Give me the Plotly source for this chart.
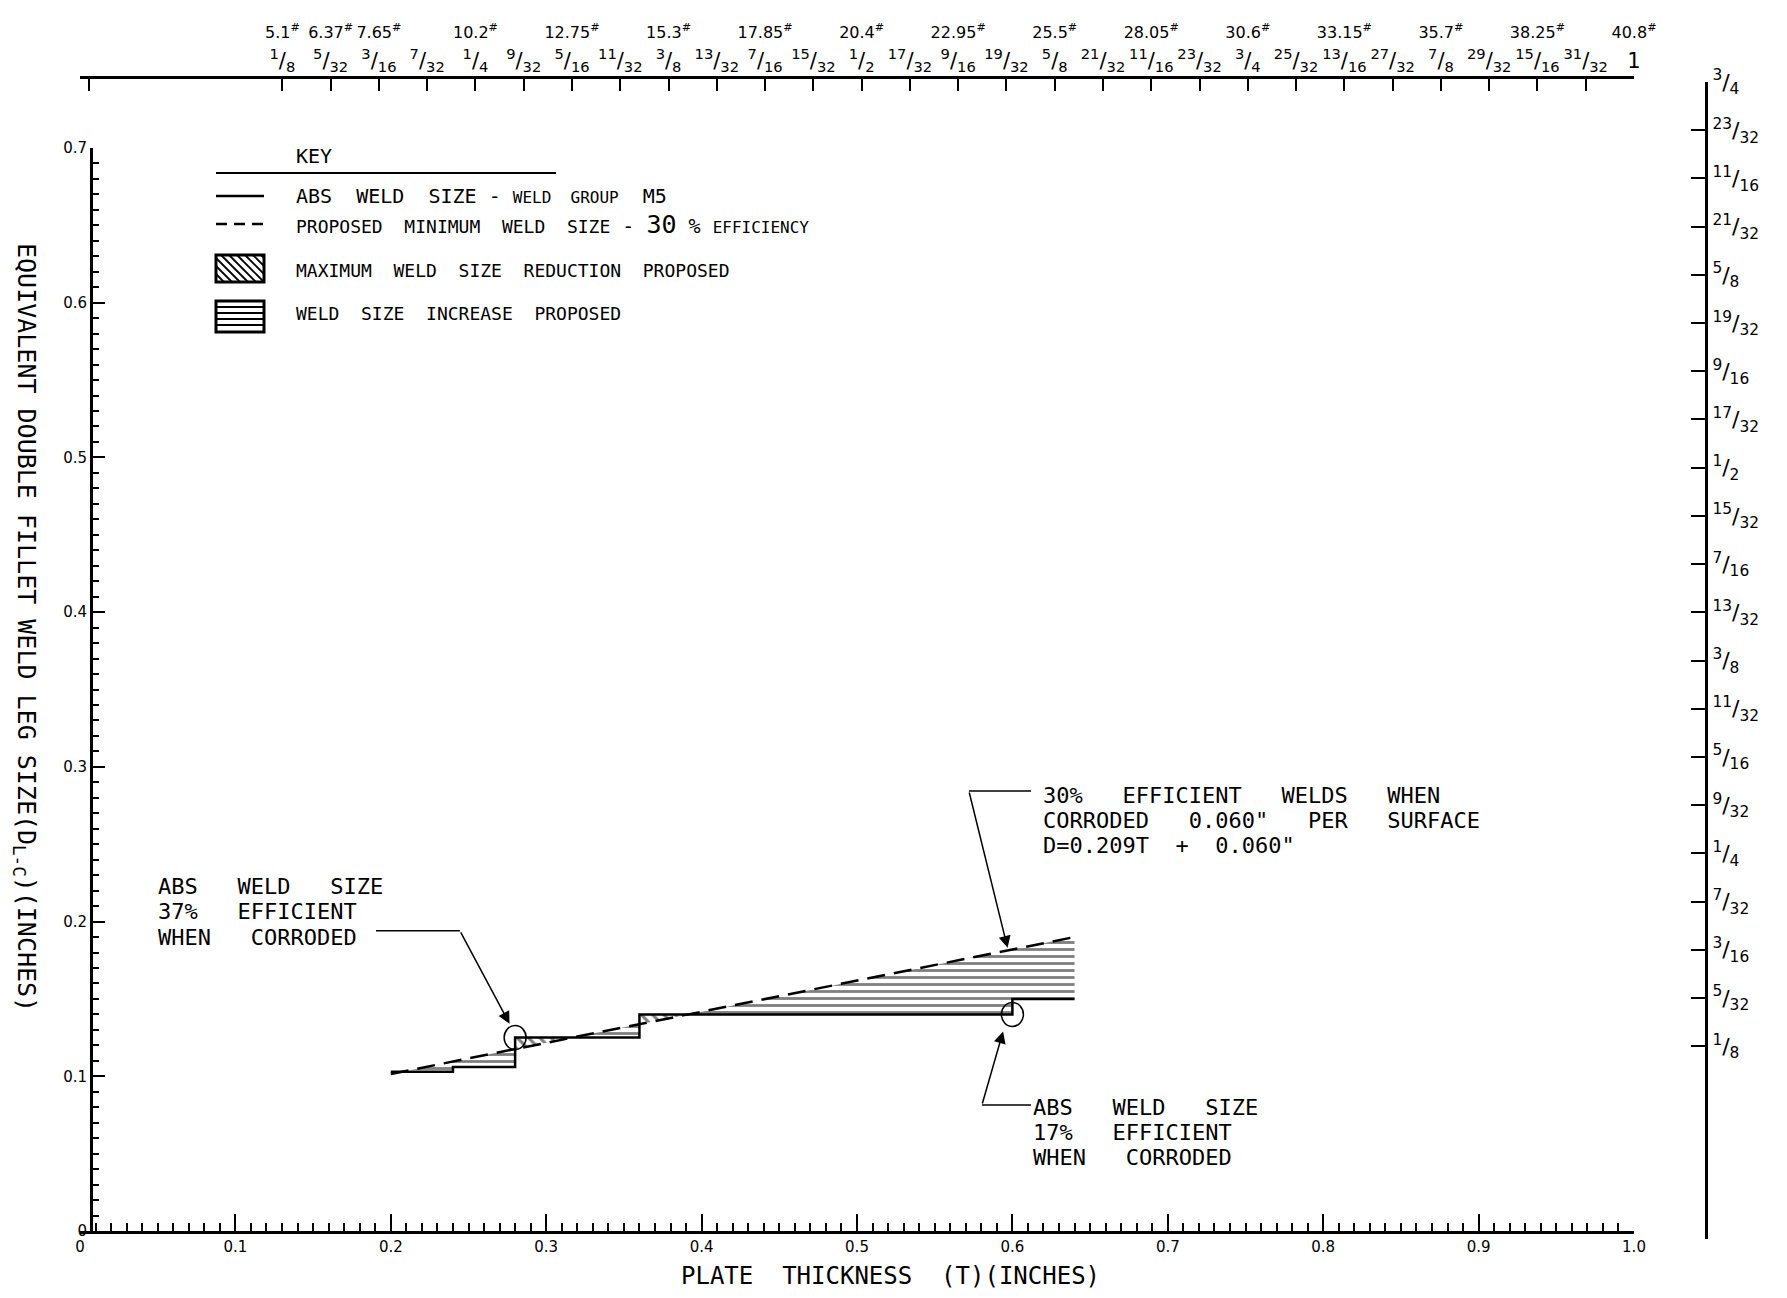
"""
Weld size chart: ABS fillet weld sizes vs proposed 30 % efficiency minimum
Plotly, black on white like the original drawing
"""
from fractions import Fraction

import numpy as np
import plotly.graph_objects as go

# ABS weld size, weld group M5: edges of each step (plate thickness) and the step levels
ABS_T = [0.20, 0.24, 0.28, 0.36, 0.60, 0.64]
ABS_D = [0.103, 0.106, 0.125, 0.140, 0.150]

# proposed minimum weld size, 30 % efficiency: end points
MIN_T = [0.20, 0.64]
MIN_D = [0.1015, 0.190]

X_TICKS = ["0", "0.1", "0.2", "0.3", "0.4", "0.5", "0.6", "0.7", "0.8", "0.9", "1.0"]
Y_TICKS = ["0", "0.1", "0.2", "0.3", "0.4", "0.5", "0.6", "0.7"]

# top scale: plate thickness in fractions, and plate weight (lb/sq ft)
TOP_FRACTIONS = ["1/8", "5/32", "3/16", "7/32", "1/4", "9/32", "5/16", "11/32", "3/8",
                 "13/32", "7/16", "15/32", "1/2", "17/32", "9/16", "19/32", "5/8", "21/32",
                 "11/16", "23/32", "3/4", "25/32", "13/16", "27/32", "7/8", "29/32",
                 "15/16", "31/32", "1"]
TOP_WEIGHT_AT = ["1/8", "5/32", "3/16", "1/4", "5/16", "3/8", "7/16", "1/2", "9/16",
                 "5/8", "11/16", "3/4", "13/16", "7/8", "15/16", "1"]
TOP_WEIGHTS = ["5.1", "6.37", "7.65", "10.2", "12.75", "15.3", "17.85", "20.4", "22.95",
               "25.5", "28.05", "30.6", "33.15", "35.7", "38.25", "40.8"]

# right scale: weld leg size in fractions
RIGHT_FRACTIONS = ["1/8", "5/32", "3/16", "7/32", "1/4", "9/32", "5/16", "11/32", "3/8",
                   "13/32", "7/16", "15/32", "1/2", "17/32", "9/16", "19/32", "5/8",
                   "21/32", "11/16", "23/32", "3/4"]

FONT = "DejaVu Sans"
MONO = "DejaVu Sans Mono"

# page geometry in pixels (the html body adds an 8 px margin)
W, H = 1787, 1298
BODY = 8
PAPER_L, PAPER_R, PAPER_T, PAPER_B = 80, 1706, 77, 1239
M = dict(l=PAPER_L - BODY, r=W - PAPER_R + BODY, t=PAPER_T - BODY, b=H - PAPER_B + BODY)
PW = PAPER_R - PAPER_L
PH = PAPER_B - PAPER_T


def px(x):
    return (x - PAPER_L) / PW


def py(y):
    return (PAPER_B - y) / PH


def frac_value(s):
    return float(Fraction(s))


def frac_label(s):
    if "/" not in s:
        return s
    num, den = s.split("/")
    return f"<sup>{num}</sup>/<sub>{den}</sub>"


def hatch_polygons():
    """Zones between the ABS steps and the proposed line"""
    red_x, red_y, inc_x, inc_y = [], [], [], []
    for i, level in enumerate(ABS_D):
        t0, t1 = ABS_T[i], ABS_T[i + 1]
        d0, d1 = np.interp([t0, t1], MIN_T, MIN_D)
        if d0 < level:
            tc = min(float(np.interp(level, MIN_D, MIN_T)), t1)
            red_x += [t0, tc, t0, None]
            red_y += [level, level, d0, None]
            if tc < t1:
                inc_x += [tc, t1, t1, None]
                inc_y += [level, level, d1, None]
        else:
            inc_x += [t0, t1, t1, t0, None]
            inc_y += [level, level, d1, d0, None]
    return red_x, red_y, inc_x, inc_y


red_x, red_y, inc_x, inc_y = hatch_polygons()

fig = go.Figure()

# zonas rayadas
fig.add_trace(go.Scatter(
    x=red_x, y=red_y, mode="none", fill="toself", fillcolor="white",
    fillpattern=dict(shape="\\", fgcolor="black", bgcolor="white", size=8, solidity=0.38),
    showlegend=False, hoverinfo="skip",
))
fig.add_trace(go.Scatter(
    x=inc_x, y=inc_y, mode="none", fill="toself", fillcolor="white",
    fillpattern=dict(shape="-", fgcolor="black", bgcolor="white", size=7, solidity=0.4),
    showlegend=False, hoverinfo="skip",
))

fig.add_trace(go.Scatter(
    x=ABS_T, y=ABS_D + [ABS_D[-1]], mode="lines",
    line=dict(color="black", width=2.5, shape="hv"),
    name="ABS WELD SIZE - WELD GROUP M5", showlegend=False,
))
fig.add_trace(go.Scatter(
    x=MIN_T, y=MIN_D, mode="lines",
    line=dict(color="black", width=2.5, dash="18px,9px"),
    name="PROPOSED MINIMUM WELD SIZE - 30 % EFFICIENCY", showlegend=False,
))

# trazas vacías para que se dibujen los ejes auxiliares
for xa, ya in [("x2", "y"), ("x3", "y"), ("x", "y2")]:
    fig.add_trace(go.Scatter(x=[None], y=[None], xaxis=xa, yaxis=ya,
                             showlegend=False, hoverinfo="skip"))

axis_common = dict(showgrid=False, zeroline=False, linecolor="black", tickcolor="black")
top_vals = [frac_value(f) for f in TOP_FRACTIONS]
right_vals = [frac_value(f) for f in RIGHT_FRACTIONS]

fig.update_layout(
    width=W, height=H,
    margin=M,
    paper_bgcolor="white", plot_bgcolor="rgba(0,0,0,0)",
    font=dict(family=FONT, color="black"),
    showlegend=False,
    xaxis=dict(
        **axis_common, domain=[0, px(1634)], range=[0, 1], type="linear", anchor="y",
        showline=True, linewidth=3, ticks="inside", ticklen=17, tickwidth=2,
        tickvals=[float(v) for v in X_TICKS], ticktext=X_TICKS,
        tickfont=dict(family=FONT, size=15, color="black"),
        minor=dict(ticks="inside", ticklen=8, tickwidth=1.5, tickcolor="black",
                   tickmode="linear", tick0=0, dtick=0.01),
    ),
    yaxis=dict(
        **axis_common, domain=[py(1231), py(148)], range=[0, 0.7],
        anchor="free", position=px(91),
        showline=True, linewidth=3, ticks="inside", ticklen=12, tickwidth=2,
        tickvals=[float(v) for v in Y_TICKS], ticktext=Y_TICKS,
        tickfont=dict(family=FONT, size=15, color="black"),
        minor=dict(ticks="inside", ticklen=6, tickwidth=1.5, tickcolor="black",
                   tickmode="linear", tick0=0, dtick=0.01),
    ),
    xaxis2=dict(
        **axis_common, overlaying="x", side="top", anchor="free", position=1,
        range=[-0.006, 1.0],
        showline=True, linewidth=3, ticks="inside", ticklen=12, tickwidth=2,
        tickvals=[0] + top_vals, ticktext=[""] + [frac_label(f) for f in TOP_FRACTIONS],
        tickfont=dict(family=FONT, size=21, color="black"),
    ),
    xaxis3=dict(
        showgrid=False, zeroline=False,
        overlaying="x", side="top", anchor="free", position=1, range=[-0.006, 1.0],
        showline=False, ticks="", ticklabelstandoff=36,
        tickvals=[frac_value(f) for f in TOP_WEIGHT_AT],
        ticktext=[f"{w}<sup>#</sup>" for w in TOP_WEIGHTS],
        tickfont=dict(family=FONT, size=16, color="black"),
    ),
    yaxis2=dict(
        **axis_common, domain=[0, py(82)], range=[0, 0.75], anchor="free", position=1,
        side="right", showline=True, linewidth=3, ticks="inside", ticklen=14, tickwidth=2,
        tickvals=[0] + right_vals, ticktext=[""] + [frac_label(f) for f in RIGHT_FRACTIONS],
        tickfont=dict(family=FONT, size=22, color="black"),
    ),
)

# títulos de ejes
fig.add_annotation(text="EQUIVALENT DOUBLE FILLET WELD LEG SIZE(D<sub>L-C</sub>)(INCHES)",
                   xref="paper", yref="paper", x=px(25), y=py(627), xanchor="center",
                   yanchor="middle", textangle=90, showarrow=False,
                   font=dict(family=MONO, size=25))
fig.add_annotation(text="PLATE  THICKNESS  (T)(INCHES)",
                   xref="paper", yref="paper", x=px(890), y=py(1276), xanchor="center",
                   yanchor="middle", showarrow=False, font=dict(family=MONO, size=24))

# clave (key) dibujada a mano, como en el original
key_font = dict(family=MONO, size=20, color="black")
fig.add_annotation(text="KEY", xref="paper", yref="paper", x=px(294), y=py(170),
                   xanchor="left", yanchor="bottom", showarrow=False, font=key_font)
fig.add_shape(type="line", xref="paper", yref="paper", x0=px(216), x1=px(556),
              y0=py(173), y1=py(173), line=dict(color="black", width=2))
fig.add_shape(type="line", xref="paper", yref="paper", x0=px(216), x1=px(264),
              y0=py(196), y1=py(196), line=dict(color="black", width=2.5))
fig.add_shape(type="line", xref="paper", yref="paper", x0=px(216), x1=px(264),
              y0=py(224), y1=py(224), line=dict(color="black", width=2.5, dash="11px,7px"))

key_items = [
    (196, "ABS  WELD  SIZE - <span style='font-size:16px'>WELD  GROUP</span>  M5"),
    (224, "<span style='font-size:18px'>PROPOSED  MINIMUM  WELD  SIZE</span> - "
          "<span style='font-size:25px'>30</span> % <span style='font-size:16px'>EFFICIENCY</span>"),
    (270, "<span style='font-size:18px'>MAXIMUM  WELD  SIZE  REDUCTION  PROPOSED</span>"),
    (314, "<span style='font-size:18px'>WELD  SIZE  INCREASE  PROPOSED</span>"),
]
for y, txt in key_items:
    fig.add_annotation(text=txt, xref="paper", yref="paper", x=px(294), y=py(y),
                       xanchor="left", yanchor="middle", showarrow=False, font=key_font)


def key_box(x0, x1, y0, y1, diagonal, step):
    """Hatched swatch of the key, in page pixels"""
    line = dict(color="black", width=1.8)
    if diagonal:
        h = y1 - y0
        a = x0 - h + step
        while a < x1:
            xs, ys, xe, ye = a, y0, a + h, y1
            if xs < x0:
                ys += x0 - xs
                xs = x0
            if xe > x1:
                ye -= xe - x1
                xe = x1
            if xe > xs:
                fig.add_shape(type="line", xref="paper", yref="paper", x0=px(xs), x1=px(xe),
                              y0=py(ys), y1=py(ye), line=line)
            a += step
    else:
        y = y0 + step
        while y < y1 - 1:
            fig.add_shape(type="line", xref="paper", yref="paper", x0=px(x0), x1=px(x1),
                          y0=py(y), y1=py(y), line=line)
            y += step
    fig.add_shape(type="rect", xref="paper", yref="paper", x0=px(x0), x1=px(x1),
                  y0=py(y0), y1=py(y1), line=dict(color="black", width=3))


key_box(216, 264, 255, 282, True, 8)
key_box(216, 264, 301, 332, False, 6)

# notas con flechas
note_font = dict(family=MONO, size=22, color="black")
arrow = dict(xref="x", yref="y", axref="x", ayref="y", text="", showarrow=True,
             arrowhead=2, arrowsize=1.6, arrowwidth=1.5, arrowcolor="black", standoff=0)


def note(lines, x, ys):
    for txt, y in zip(lines, ys):
        fig.add_annotation(text=txt, x=x, y=y, xref="x", yref="y", xanchor="left",
                           yanchor="middle", showarrow=False, font=note_font)


note(["ABS   WELD   SIZE", "37%   EFFICIENT", "WHEN   CORRODED"], 0.0489,
     [0.2224, 0.2062, 0.1900])
fig.add_shape(type="line", x0=0.1905, x1=0.2445, y0=0.194, y1=0.194,
              line=dict(color="black", width=1.5))
fig.add_annotation(**arrow, ax=0.2445, ay=0.194, x=0.2764, y=0.134)

note(["30%   EFFICIENT   WELDS   WHEN", "CORRODED   0.060\"   PER   SURFACE",
      "D=0.209T  +  0.060\""], 0.6181, [0.2818, 0.2656, 0.2494])
fig.add_shape(type="line", x0=0.612, x1=0.572, y0=0.2844, y1=0.2844,
              line=dict(color="black", width=1.5))
fig.add_annotation(**arrow, ax=0.572, ay=0.2844, x=0.5969, y=0.183)

note(["ABS   WELD   SIZE", "17%   EFFICIENT", "WHEN   CORRODED"], 0.6122,
     [0.0796, 0.0634, 0.0472])
fig.add_shape(type="line", x0=0.612, x1=0.5804, y0=0.0814, y1=0.0814,
              line=dict(color="black", width=1.5))
fig.add_annotation(**arrow, ax=0.5804, ay=0.0814, x=0.594, y=0.129)

# círculos en los puntos señalados
for cx, cy in [(ABS_T[2], ABS_D[2]), (ABS_T[4], ABS_D[3])]:
    fig.add_shape(type="circle", xref="x", yref="y", xsizemode="pixel", ysizemode="pixel",
                  xanchor=cx, yanchor=cy, x0=-11, x1=11, y0=-12, y1=12,
                  line=dict(color="black", width=1.5))

fig.write_html("out.html")
